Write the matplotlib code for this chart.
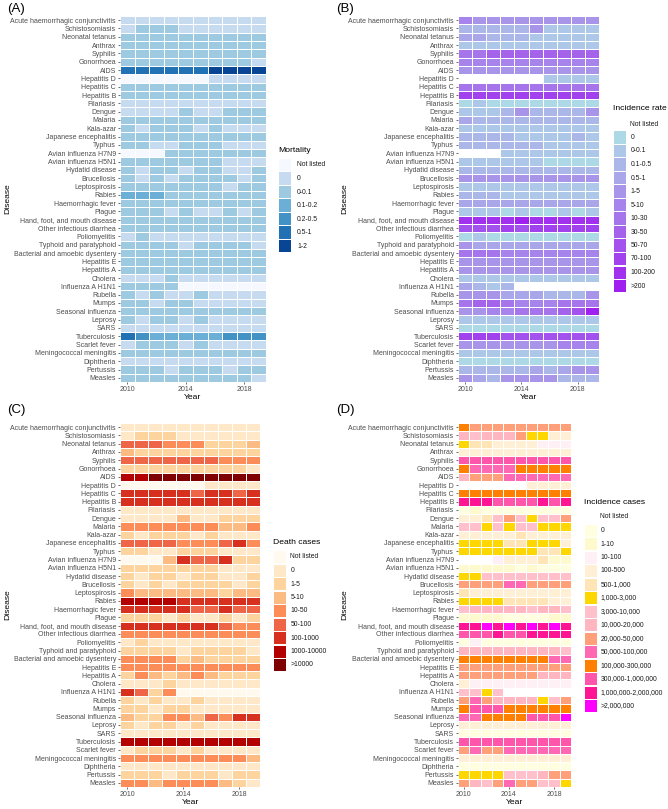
import numpy as np
import matplotlib
matplotlib.use('Agg')
import matplotlib.pyplot as plt
from matplotlib.colors import ListedColormap, BoundaryNorm
from matplotlib.patches import Rectangle

plt.rcParams['font.family'] = ['Liberation Sans', 'DejaVu Sans']

years = list(range(2010, 2020))
diseases = [
    'Acute haemorrhagic conjunctivitis', 'Schistosomiasis', 'Neonatal tetanus',
    'Anthrax', 'Syphilis', 'Gonorrhoea', 'AIDS', 'Hepatitis D', 'Hepatitis C',
    'Hepatitis B', 'Filariasis', 'Dengue', 'Malaria', 'Kala-azar',
    'Japanese encephalitis', 'Typhus', 'Avian influenza H7N9',
    'Avian influenza H5N1', 'Hydatid disease', 'Brucellosis', 'Leptospirosis',
    'Rabies', 'Haemorrhagic fever', 'Plague', 'Hand, foot, and mouth disease',
    'Other infectious diarrhea', 'Poliomyelitis', 'Typhoid and paratyphoid',
    'Bacterial and amoebic dysentery', 'Hepatitis E', 'Hepatitis A', 'Cholera',
    'Influenza A H1N1', 'Rubella', 'Mumps', 'Seasonal influenza', 'Leprosy',
    'SARS', 'Tuberculosis', 'Scarlet fever', 'Meningococcal meningitis',
    'Diphtheria', 'Pertussis', 'Measles',
]

# one string per disease, one character per year (index into the legend, hex)
mortality_codes = [
    '1111111111', '1222111111', '2222222222', '2222222222', '2222222222',
    '2222222221', '5555556666', '0000001111', '2222222222', '2222222222',
    '1111111111', '1111211222', '2222222222', '2122212111', '2222222222',
    '2211222111', '0002222222', '2222222111', '2122122112', '2121222212',
    '2222222122', '3332222222', '2222222222', '2221211212', '2222222222',
    '2222222222', '1211111111', '2222122221', '2222222222', '2222222222',
    '2222222222', '1112111111', '2222000000', '2121121111', '2212211111',
    '2222222222', '2122121111', '1111111111', '5433333444', '1222121111',
    '2222222222', '1111111111', '2221222122', '2222222221',
]
rate_codes = [
    '6555555555', '3333352222', '4433322222', '2222222222', '7788888888',
    '6666666666', '5555555555', '0000002222', '7777777777', 'aaaaaaaaaa',
    '1211111111', '2223533335', '4333333333', '2222222222', '3333222232',
    '3333332222', '0002222222', '2222221111', '3333333333', '5555555555',
    '2222222222', '3332222222', '4444444444', '2221211212', 'bbbbcbbbbb',
    '999a9aaaaa', '1211111111', '5444444444', '7776666666', '5555555555',
    '5555555555', '2222222222', '4323000000', '5554443335', '7887666777',
    '556677789c', '2222222222', '1111111111', 'aaa9999999', '5555555666',
    '2222222222', '1111111111', '3333343455', '5435555333',
]
death_codes = [
    '1111111111', '1222111111', '5554442223', '3222222222', '5555555444',
    '2222222221', '7788888888', '0000001111', '6666656656', '6666666666',
    '1111111111', '1111311222', '4444444334', '2122212111', '5555444564',
    '2211222111', '0003655622', '2222222111', '2122122112', '2121222212',
    '4333333233', '7777666666', '6666655655', '2221211212', '6666666544',
    '4444444444', '1211111111', '2222122221', '4444232222', '4444444444',
    '2432343222', '1112111111', '6524000000', '2121121111', '2212211111',
    '3224435466', '2122121111', '1111111111', '7777777777', '1222121111',
    '4444444443', '1111111111', '2221222122', '4434444321',
]
case_codes = [
    'b999999999', '8788896644', '6554444333', '4444444444', 'cccccccccc',
    'baaaabbbbb', '8999aaaaaa', '0000004444', 'bbbbbbbbbb', 'dddccccdcd',
    '1211111111', '4457976779', '7767677666', '4444454444', '6666556664',
    '6666666556', '0003444522', '2222212111', '6677777777', '9999aa9999',
    '5444444444', '6666555544', '7888887887', '2222111122', 'ddedededed',
    'cccdccdddd', '1311111111', '8888888887', 'bbbbbbbbaa', '9999999999',
    '9999999888', '4333333333', '7767000000', '9a98888679', 'bcccbbbbbb',
    'aabbbbccce', '4444444444', '1111111111', 'cccccccccc', '9a99aaaaaa',
    '4444444444', '1111111111', '6666777899', '9879a99776',
]

mortality_labels = ['Not listed', '0', '0-0.1', '0.1-0.2', '0.2-0.5', '0.5-1', '1-2']
rate_labels = ['Not listed', '0', '0-0.1', '0.1-0.5', '0.5-1', '1-5', '5-10', '10-30',
               '30-50', '50-70', '70-100', '100-200', '>200']
death_labels = ['Not listed', '0', '1-5', '5-10', '10-50', '50-100', '100-1000',
                '1000-10000', '>10000']
case_labels = ['Not listed', '0', '1-10', '10-100', '100-500', '500-1,000',
               '1,000-3,000', '3,000-10,000', '10,000-20,000', '20,000-50,000',
               '50,000-100,000', '100,000-300,000', '300,000-1,000,000',
               '1,000,000-2,000,000', '>2,000,000']

mortality_colors = ['#F5F9FF', '#C6DBEF', '#9ECAE1', '#6BAED6', '#4292C6', '#2171B5', '#084594']
lb = np.array([0xAD, 0xD8, 0xE6]) / 255
pu = np.array([0xA0, 0x20, 0xF0]) / 255
rate_colors = ['#FFFFFF'] + [tuple(lb + (pu - lb) * t) for t in np.linspace(0, 1, 12)]
death_colors = ['#FFF9EE', '#FEE8C8', '#FDD49E', '#FDBB84', '#FC8D59', '#EF6548',
                '#D7301F', '#B30000', '#7F0000']
case_colors = ['#FFFFFF', '#FFFFE0', '#FFFACD', '#FFF0F5', '#FFEFD5', '#FFE4B5',
               '#FFD700', '#FFC0CB', '#FFB6C1', '#FFA07A', '#FF69B4', '#FF7F00',
               '#FF55AA', '#FF1493', '#FF00FF']

W, H = 668, 809
fig = plt.figure(figsize=(W / 100, H / 100), dpi=100)


def fx(x):
    return x / W


def fy(y):
    return 1 - y / H


def heat(codes, colors, x0, y0, x1, y1):
    grid = np.array([[int(c, 16) for c in row] for row in codes])
    ax = fig.add_axes([fx(x0), fy(y1), (x1 - x0) / W, (y1 - y0) / H])
    cmap = ListedColormap(colors)
    norm = BoundaryNorm(np.arange(len(colors) + 1) - 0.5, len(colors))
    xe = np.arange(len(years) + 1) + years[0] - 0.5
    ye = np.arange(len(diseases) + 1) - 0.5
    ax.pcolormesh(xe, ye, grid, cmap=cmap, norm=norm, edgecolors='white', linewidth=0.7)
    ax.set_xlim(xe[0], xe[-1])
    ax.set_ylim(ye[-1], ye[0])
    ax.set_yticks(range(len(diseases)))
    ax.set_yticklabels(diseases)
    ax.set_xticks([2010, 2014, 2018])
    ax.tick_params(labelsize=5, length=1.6, width=0.5, color='#333333',
                   pad=1.2, labelcolor='#4D4D4D')
    for s in ax.spines.values():
        s.set_visible(False)
    # axis titles
    fig.text(fx((x0 + x1) / 2), fy(y1 + 15.5), 'Year', fontsize=6.1, ha='center', va='center')
    return ax


def legend(title, labels, colors, x, ty, y_first, step=13.5, text_dx=17.5):
    fig.text(fx(x), fy(ty), title, fontsize=6.1, ha='left', va='center')
    for i, (lab, col) in enumerate(zip(labels, colors)):
        yc = y_first + i * step
        fig.add_artist(Rectangle((fx(x + 0.5), fy(yc + 6)), 12 / W, 12 / H,
                                 transform=fig.transFigure, facecolor=col, edgecolor='none'))
        fig.text(fx(x + text_dx), fy(yc), lab, fontsize=4.9, ha='left', va='center', color='#1A1A1A')


heat(mortality_codes, mortality_colors, 120, 16, 266, 382)
heat(rate_codes, rate_colors, 458, 16, 599, 382)
heat(death_codes, death_colors, 120, 423, 260, 787)
heat(case_codes, case_colors, 458, 423, 571, 787)

for x, y in [(8, 199), (345, 199), (8, 605), (345, 605)]:
    fig.text(fx(x), fy(y), 'Disease', fontsize=6.1, rotation=90, ha='center', va='center')

for lab, x, y in [('(A)', 7, 9), ('(B)', 336, 9), ('(C)', 7, 410), ('(D)', 336, 410)]:
    fig.text(fx(x), fy(y), lab, fontsize=9.5, ha='left', va='center')

legend('Mortality', mortality_labels, mortality_colors, 278, 150, 165, text_dx=19)
legend('Incidence rate', rate_labels, rate_colors, 613, 109, 124)
legend('Death cases', death_labels, death_colors, 273, 542, 557)
legend('Incidence cases', case_labels, case_colors, 584, 502, 517, text_dx=16.5)

fig.savefig('out.png', dpi=100, facecolor='white')
